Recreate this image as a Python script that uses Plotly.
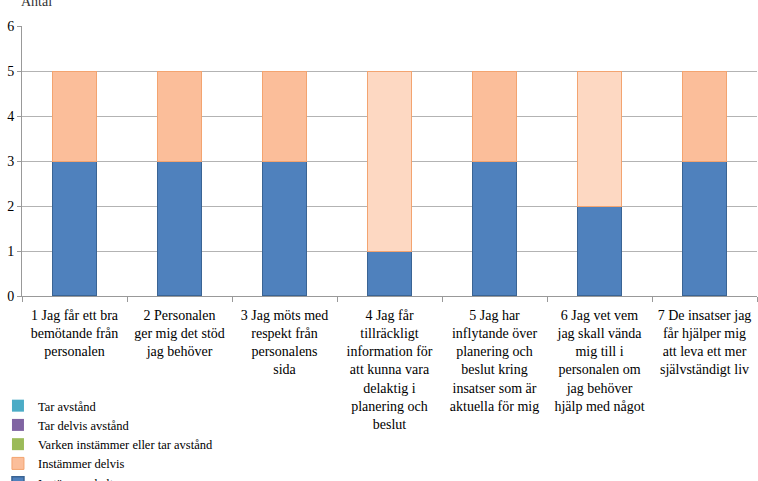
import plotly.graph_objects as go

categories = [
    "1 Jag får ett bra<br>bemötande från<br>personalen",
    "2 Personalen<br>ger mig det stöd<br>jag behöver",
    "3 Jag möts med<br>respekt från<br>personalens<br>sida",
    "4 Jag får<br>tillräckligt<br>information för<br>att kunna vara<br>delaktig i<br>planering och<br>beslut",
    "5 Jag har<br>inflytande över<br>planering och<br>beslut kring<br>insatser som är<br>aktuella för mig",
    "6 Jag vet vem<br>jag skall vända<br>mig till i<br>personalen om<br>jag behöver<br>hjälp med något",
    "7 De insatser jag<br>får hjälper mig<br>att leva ett mer<br>självständigt liv",
]
instammer_helt = [3, 3, 3, 1, 3, 2, 3]
instammer_delvis = [2, 2, 2, 4, 2, 3, 2]
varken = [0, 0, 0, 0, 0, 0, 0]
tar_delvis_avstand = [0, 0, 0, 0, 0, 0, 0]
tar_avstand = [0, 0, 0, 0, 0, 0, 0]
y_ticks = [0, 1, 2, 3, 4, 5, 6]

FONT = "Liberation Serif"
orange_fill = ["#FBBE9A" if v <= 2 else "#FDD8C2" for v in instammer_delvis]

fig = go.Figure()
fig.add_trace(go.Bar(x=categories, y=instammer_helt, name="Instämmer helt",
                     marker=dict(color="#4F81BD", line=dict(color="#3A6494", width=1.5))))
fig.add_trace(go.Bar(x=categories, y=instammer_delvis, name="Instämmer delvis",
                     marker=dict(color=orange_fill, line=dict(color="#F3A470", width=1))))
fig.add_trace(go.Bar(x=categories, y=varken, name="Varken instämmer eller tar avstånd",
                     marker=dict(color="#9BBB59", line=dict(width=0))))
fig.add_trace(go.Bar(x=categories, y=tar_delvis_avstand, name="Tar delvis avstånd",
                     marker=dict(color="#8064A2", line=dict(width=0))))
fig.add_trace(go.Bar(x=categories, y=tar_avstand, name="Tar avstånd",
                     marker=dict(color="#4BACC6", line=dict(width=0))))

fig.update_layout(
    barmode="stack",
    bargap=0.58,
    width=758, height=481,
    margin=dict(l=22, r=1, t=26, b=185, autoexpand=False),
    paper_bgcolor="white", plot_bgcolor="white",
    font=dict(family=FONT, size=14, color="black"),
    showlegend=True,
    legend=dict(
        traceorder="reversed",
        x=-0.0327, xanchor="left",
        y=-0.352, yanchor="top",
        font=dict(family=FONT, size=12.5, color="black"),
        bgcolor="rgba(0,0,0,0)",
        itemclick=False,
    ),
    annotations=[dict(text="Antal", xref="paper", yref="paper", x=0, y=1,
                      xanchor="left", yanchor="bottom", xshift=-3, yshift=15,
                      showarrow=False, font=dict(family=FONT, size=14, color="#333"))],
)
fig.update_xaxes(
    type="category", tickson="boundaries",
    ticks="outside", ticklen=5, tickcolor="#999",
    ticklabelstandoff=6,
    showline=True, linecolor="#999", linewidth=1,
    showgrid=False,
    tickangle=0,
    tickfont=dict(family=FONT, size=14, color="black"),
)
fig.update_yaxes(
    range=[0, 6], tickvals=y_ticks,
    ticks="outside", ticklen=4, tickcolor="#999",
    showline=True, linecolor="#999", linewidth=1,
    showgrid=True, gridcolor="#B3B3B3", gridwidth=1,
    zeroline=False,
    tickfont=dict(family=FONT, size=14, color="black"),
)

fig.write_html("out.html", config={"displayModeBar": False},
               post_script="document.body.style.margin='0';")
